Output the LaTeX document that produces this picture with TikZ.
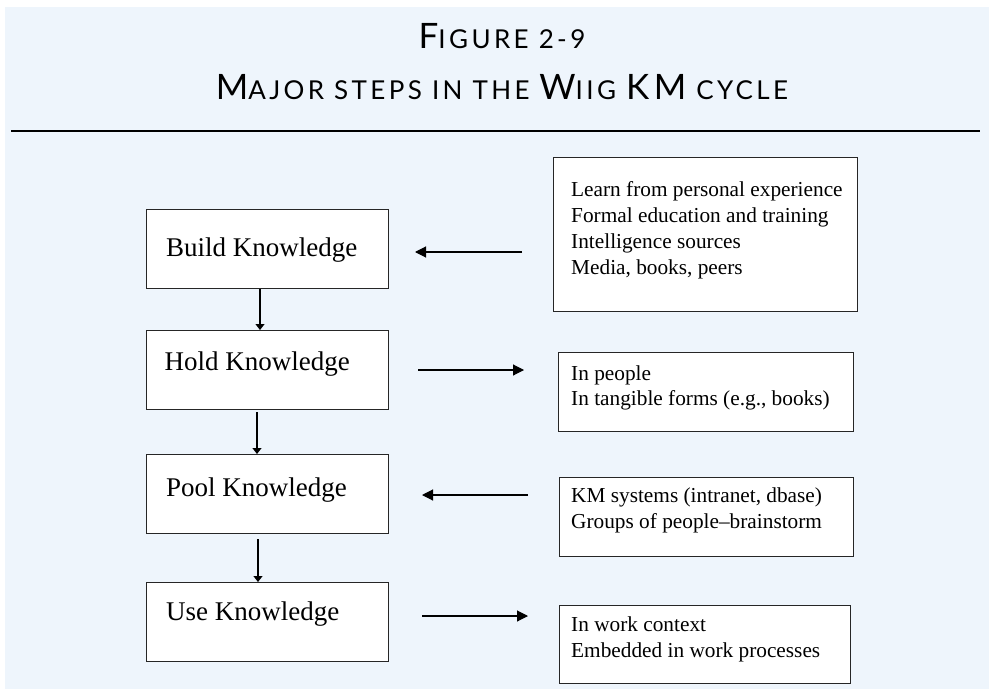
\documentclass[tikz,border=0pt]{standalone}
\usepackage{fontspec}
\setmainfont{Liberation Serif}
\newfontfamily\titlefont[LetterSpace=13]{Lato}
\usetikzlibrary{arrows.meta,calc}
\definecolor{bgblue}{RGB}{238,245,252}
\newcommand\tlarge[1]{{\fontsize{35}{38}\selectfont #1}}
\newcommand\tsmall[1]{{\fontsize{26}{30}\selectfont #1}}
\tikzset{
  stepbox/.style={draw=black!85, line width=1.1pt, fill=white, anchor=north west, inner sep=0pt},
  steptext/.style={anchor=base west, inner sep=0pt, font=\fontsize{27}{32}\selectfont},
  listtext/.style={anchor=base west, inner sep=0pt, font=\fontsize{21.3}{25.8}\selectfont},
  harrow/.style={line width=1.1pt, -{Triangle[length=11pt,width=11pt]}},
  varrow/.style={line width=1.1pt, -{Triangle[length=6pt,width=9pt]}},
  titletext/.style={anchor=base, inner sep=0pt, font=\titlefont}
}
\begin{document}
\begin{tikzpicture}[x=1pt,y=-1pt]
\useasboundingbox (0,0) rectangle (990,690);
\fill[bgblue] (5,7) rectangle (989,689);
% title
\node[titletext] (t1) at (502,48.5) {\tlarge{F}\tsmall{IGURE 2-9}};
\node[titletext] (t2) at (502,100) {\tlarge{M}\tsmall{AJOR STEPS IN THE }\tlarge{W}\tsmall{IIG }\tlarge{KM}\tsmall{ CYCLE}};
\draw[line width=1.1pt] (11,131) -- (980,131);
% left step boxes
\node[stepbox, minimum width=242pt, minimum height=79pt] (b1) at (146,209) {};
\node[stepbox, minimum width=242pt, minimum height=79pt] (b2) at (146,330) {};
\node[stepbox, minimum width=242pt, minimum height=79pt] (b3) at (146,454) {};
\node[stepbox, minimum width=242pt, minimum height=79pt] (b4) at (146,582) {};
\node[steptext] (l1) at (166,256) {Build Knowledge};
\node[steptext] (l2) at (164.5,370) {Hold Knowledge};
\node[steptext] (l3) at (166,496.5) {Pool Knowledge};
\node[steptext] (l4) at (166,620) {Use Knowledge};
% right boxes
\node[stepbox, minimum width=304pt, minimum height=154pt] (r1) at (553,157) {};
\node[stepbox, minimum width=295pt, minimum height=79pt] (r2) at (558,352) {};
\node[stepbox, minimum width=294pt, minimum height=79pt] (r3) at (559,477) {};
\node[stepbox, minimum width=291pt, minimum height=78pt] (r4) at (559,605) {};
\node[listtext] (s1) at (571,196.7) {\begin{tabular}[t]{@{}l@{}}Learn from personal experience\\Formal education and training\\Intelligence sources\\Media, books, peers\end{tabular}};
\node[listtext] (s2) at (571,380) {\begin{tabular}[t]{@{}l@{}}In people\\In tangible forms (e.g., books)\end{tabular}};
\node[listtext] (s3) at (571,502.7) {\begin{tabular}[t]{@{}l@{}}KM systems (intranet, dbase)\\Groups of people--brainstorm\end{tabular}};
\node[listtext] (s4) at (571,631.7) {\begin{tabular}[t]{@{}l@{}}In work context\\Embedded in work processes\end{tabular}};
% vertical arrows
\coordinate (x1) at (260,0);
\coordinate (x2) at (257,0);
\coordinate (x3) at (258,0);
\draw[varrow] (b1.south -| x1) -- (b2.north -| x1);
\draw[varrow, shorten <=2pt] (b2.south -| x2) -- (b3.north -| x2);
\draw[varrow, shorten <=5pt] (b3.south -| x3) -- (b4.north -| x3);
% horizontal arrows
\coordinate (h1a) at (522,252);  \coordinate (h1b) at (415,252);
\coordinate (h2a) at (418,370);  \coordinate (h2b) at (524,370);
\coordinate (h3a) at (528,495);  \coordinate (h3b) at (422,495);
\coordinate (h4a) at (422,616);  \coordinate (h4b) at (528,616);
\draw[harrow] (h1a) -- (h1b);
\draw[harrow] (h2a) -- (h2b);
\draw[harrow] (h3a) -- (h3b);
\draw[harrow] (h4a) -- (h4b);
\end{tikzpicture}
\end{document}
